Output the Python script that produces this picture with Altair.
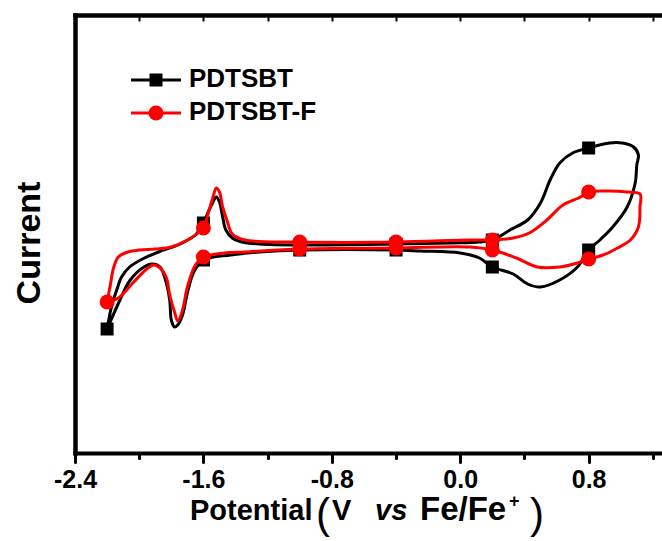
import altair as alt
import pandas as pd

# ---------------- data ----------------
X_TICKS = [-2.4, -2.0, -1.6, -1.2, -0.8, -0.4, 0.0, 0.4, 0.8, 1.2]
X_DOMAIN = [-2.4, 1.257]
Y_DOMAIN = [-2.08, 2.30]

SERIES_NAMES = ["PDTSBT", "PDTSBT-F"]
SERIES_COLORS = ["#000000", "#ff0000"]
SERIES_SHAPES = ["square", "circle"]

# PDTSBT loop (forward branch, then reverse branch)
PDTSBT_V = [-2.20, -2.17, -2.14, -2.11, -2.06, -1.98, -1.88, -1.76, -1.65, -1.60,
            -1.57, -1.54, -1.52, -1.50, -1.48, -1.46, -1.42, -1.36, -1.25, -1.00,
            -0.40, -0.06, 0.12, 0.20, 0.31, 0.42, 0.50, 0.56, 0.62, 0.70,
            0.80, 0.93, 1.01, 1.08, 1.11, 1.10, 1.09, 1.04, 0.95, 0.87,
            0.80, 0.73, 0.62, 0.50, 0.42, 0.33, 0.20, 0.12, 0.00, -0.25,
            -0.40, -1.00, -1.25, -1.43, -1.60, -1.66, -1.70, -1.73, -1.76, -1.78,
            -1.80, -1.81, -1.84, -1.87, -1.92, -1.98, -2.06, -2.12, -2.17, -2.20]
PDTSBT_I = [-0.84, -0.60, -0.45, -0.32, -0.22, -0.14, -0.07, 0.00, 0.10, 0.22,
            0.33, 0.43, 0.48, 0.43, 0.28, 0.15, 0.07, 0.03, 0.01, 0.00,
            0.01, 0.02, 0.03, 0.05, 0.15, 0.25, 0.42, 0.65, 0.82, 0.92,
            0.97, 1.02, 1.02, 0.98, 0.90, 0.80, 0.62, 0.38, 0.18, 0.05,
            -0.05, -0.22, -0.35, -0.42, -0.39, -0.29, -0.22, -0.13, -0.08, -0.06,
            -0.05, -0.05, -0.07, -0.10, -0.15, -0.27, -0.48, -0.70, -0.80, -0.82,
            -0.75, -0.55, -0.33, -0.22, -0.19, -0.23, -0.36, -0.55, -0.73, -0.84]
PDTSBT_MARK = [1, 0, 0, 0, 0, 0, 0, 0, 0, 1,
               0, 0, 0, 0, 0, 0, 0, 0, 0, 1,
               1, 0, 0, 1, 0, 0, 0, 0, 0, 0,
               1, 0, 0, 0, 0, 0, 0, 0, 0, 0,
               1, 0, 0, 0, 0, 0, 1, 0, 0, 0,
               1, 1, 0, 0, 1, 0, 0, 0, 0, 0,
               0, 0, 0, 0, 0, 0, 0, 0, 0, 0]

# PDTSBT-F loop
PDTSBT_F_V = [-2.20, -2.18, -2.16, -2.13, -2.07, -2.00, -1.90, -1.80, -1.70, -1.60,
              -1.57, -1.54, -1.52, -1.50, -1.48, -1.45, -1.42, -1.34, -1.00, -0.40,
              0.06, 0.20, 0.33, 0.43, 0.54, 0.64, 0.75, 0.80, 0.93, 1.04,
              1.12, 1.12, 1.11, 1.06, 0.98, 0.89, 0.80, 0.73, 0.62, 0.48,
              0.35, 0.20, 0.06, -0.40, -1.00, -1.34, -1.47, -1.60, -1.65, -1.70,
              -1.73, -1.76, -1.78, -1.81, -1.83, -1.87, -1.91, -1.96, -2.04, -2.13,
              -2.20]
PDTSBT_F_I = [-0.57, -0.40, -0.23, -0.12, -0.07, -0.05, -0.04, -0.02, 0.05, 0.17,
              0.32, 0.48, 0.57, 0.53, 0.38, 0.23, 0.11, 0.05, 0.03, 0.03,
              0.05, 0.05, 0.07, 0.12, 0.25, 0.40, 0.48, 0.53, 0.54, 0.53,
              0.51, 0.38, 0.18, 0.05, -0.03, -0.10, -0.14, -0.18, -0.22, -0.22,
              -0.13, -0.05, -0.02, -0.03, -0.04, -0.07, -0.08, -0.12, -0.20, -0.42,
              -0.65, -0.76, -0.67, -0.50, -0.33, -0.23, -0.20, -0.25, -0.38, -0.53,
              -0.57]
PDTSBT_F_MARK = [1, 0, 0, 0, 0, 0, 0, 0, 0, 1,
                 0, 0, 0, 0, 0, 0, 0, 0, 1, 1,
                 0, 1, 0, 0, 0, 0, 0, 1, 0, 0,
                 0, 0, 0, 0, 0, 0, 1, 0, 0, 0,
                 0, 1, 0, 1, 1, 0, 0, 1, 0, 0,
                 0, 0, 0, 0, 0, 0, 0, 0, 0, 0,
                 0]

X_TITLE_PARTS = ["Potential", "(", "V", "vs", "Fe/Fe", "+", ")"]
Y_TITLE = "Current"

# ---------------- build ----------------
def frame(v, i, m):
    return pd.DataFrame({"v": v, "i": i, "mark": m, "k": list(range(len(v)))})

df_b = frame(PDTSBT_V, PDTSBT_I, PDTSBT_MARK)
df_r = frame(PDTSBT_F_V, PDTSBT_F_I, PDTSBT_F_MARK)

FONT = "Liberation Sans, Arial, Helvetica, sans-serif"
xs = alt.Scale(domain=X_DOMAIN, nice=False, zero=False)
ys = alt.Scale(domain=Y_DOMAIN, nice=False, zero=False)

major_test = "abs(round(datum.value*10)) % 8 == 0"
bottom_axis = alt.Axis(
    orient="bottom", values=X_TICKS, title=None, grid=False,
    labelExpr=major_test + " ? replace(format(datum.value, '.1f'), '\u2212', '-') : ''",
    domainWidth=4, domainColor="black", domainCap="square",
    tickColor="black", tickWidth=3, tickCap="round",
    tickSize={"condition": {"test": major_test, "value": 9}, "value": 5},
    labelFont=FONT, labelFontWeight="bold", labelFontSize=25, labelColor="black",
    labelPadding=5, labelFlush=False, labelOverlap=False, labelBaseline="top",
)
left_axis = alt.Axis(orient="left", title=None, grid=False, labels=False, ticks=False,
                     domainWidth=4.5, domainColor="black", domainCap="square")
top_axis = alt.Axis(orient="top", title=None, grid=False, labels=False, ticks=False,
                    domainWidth=4.5, domainColor="black", domainCap="square")
top_ticks = alt.Axis(orient="top", title=None, grid=False, labels=False, domain=False,
                     values=X_TICKS, ticks=True, tickSize=4, tickWidth=2,
                     tickColor="black", offset=-6)

line_b = alt.Chart(df_b).mark_line(interpolate="catmull-rom", color="black", strokeWidth=3).encode(
    x=alt.X("v:Q", scale=xs, axis=bottom_axis),
    y=alt.Y("i:Q", scale=ys, axis=left_axis),
    order="k:Q",
)
pts_b = alt.Chart(df_b).transform_filter("datum.mark == 1").mark_point(
    shape="square", filled=True, size=169, color="black", opacity=1).encode(
    x=alt.X("v:Q", scale=xs, axis=top_axis),
    y=alt.Y("i:Q", scale=ys, axis=None),
)
line_r = alt.Chart(df_r).mark_line(interpolate="catmull-rom", color="#ff0000", strokeWidth=3).encode(
    x=alt.X("v:Q", scale=xs, axis=top_ticks),
    y=alt.Y("i:Q", scale=ys, axis=None),
    order="k:Q",
)
pts_r = alt.Chart(df_r).transform_filter("datum.mark == 1").mark_point(
    shape="circle", filled=True, size=225, color="#ff0000", opacity=1).encode(
    x=alt.X("v:Q", scale=xs, axis=None),
    y=alt.Y("i:Q", scale=ys, axis=None),
)

# legend (manual)
legend_layers = []
for idx, (name, col, shp) in enumerate(zip(SERIES_NAMES, SERIES_COLORS, SERIES_SHAPES)):
    yy = 65 + idx * 33
    d = alt.Data(values=[{"name": name}])
    legend_layers.append(alt.Chart(d).mark_rule(color=col, strokeWidth=3).encode(
        x=alt.value(56), x2=alt.value(106), y=alt.value(yy)))
    legend_layers.append(alt.Chart(d).mark_point(
        shape=shp, filled=True, size=(169 if shp == "square" else 225), color=col, opacity=1).encode(
        x=alt.value(81), y=alt.value(yy)))
    legend_layers.append(alt.Chart(d).mark_text(
        align="left", baseline="middle", font=FONT, fontWeight="bold", fontSize=26, color="black").encode(
        x=alt.value(114), y=alt.value(yy - 1), text="name:N"))

# axis titles (manual, mixed styles)
def txt(s, x, y, size=29, style="normal", font=FONT, align="left", weight="bold", angle=0, baseline="alphabetic"):
    return alt.Chart(alt.Data(values=[{"t": s}])).mark_text(
        align=align, baseline=baseline, font=font, fontWeight=weight, fontSize=size,
        fontStyle=style, color="black", angle=angle).encode(
        x=alt.value(x), y=alt.value(y), text="t:N")

title_layers = [
    txt(X_TITLE_PARTS[0], 115, 505),
    txt(X_TITLE_PARTS[1], 248, 513, size=42, weight="normal", align="center"),
    txt(X_TITLE_PARTS[2], 257, 505),
    txt(X_TITLE_PARTS[3], 300, 505, style="italic"),
    txt(X_TITLE_PARTS[4], 345, 505, size=33),
    txt(X_TITLE_PARTS[5], 434, 492, size=18),
    txt(X_TITLE_PARTS[6], 462, 513, size=42, weight="normal", align="center"),
    txt(Y_TITLE, -45.5, 228, size=34, align="center", angle=270, baseline="middle"),
]

chart = alt.layer(line_b, pts_b, line_r, pts_r, *legend_layers, *title_layers).resolve_axis(
    x="independent", y="independent"
).properties(
    width=587, height=438,
    padding={"left": 75, "top": 15, "right": 0, "bottom": 88},
    autosize="none", background="white",
).configure_view(stroke=None)

chart.save("out.html", embed_options={"renderer": "svg", "actions": False})
